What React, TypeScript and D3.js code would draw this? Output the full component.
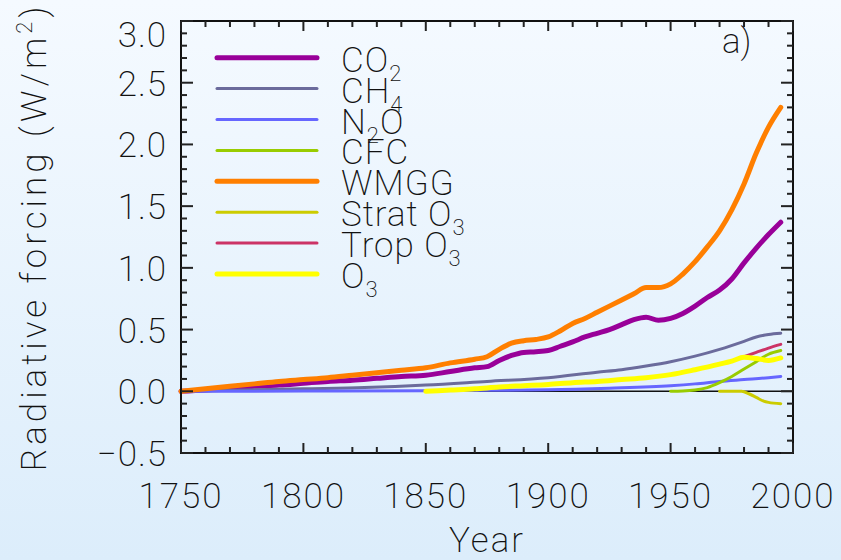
import React from "react";
import * as d3 from "d3";

// years / values
const yearsLong = [1750, 1760, 1770, 1780, 1790, 1800, 1810, 1820, 1830, 1840, 1850, 1860, 1870, 1875, 1880, 1885, 1890, 1895, 1900, 1905, 1910, 1915, 1920, 1925, 1930, 1935, 1940, 1945, 1950, 1955, 1960, 1965, 1970, 1975, 1980, 1985, 1990, 1995];
const co2 = [0.0, 0.01, 0.025, 0.04, 0.05, 0.065, 0.08, 0.09, 0.105, 0.12, 0.13, 0.16, 0.19, 0.2, 0.25, 0.29, 0.315, 0.32, 0.33, 0.365, 0.4, 0.44, 0.47, 0.5, 0.54, 0.58, 0.6, 0.575, 0.59, 0.63, 0.69, 0.76, 0.82, 0.91, 1.04, 1.16, 1.27, 1.37];
const wmgg = [0.0, 0.02, 0.04, 0.06, 0.08, 0.095, 0.11, 0.13, 0.15, 0.17, 0.19, 0.23, 0.26, 0.28, 0.34, 0.39, 0.41, 0.42, 0.44, 0.49, 0.55, 0.59, 0.64, 0.69, 0.74, 0.79, 0.84, 0.84, 0.87, 0.95, 1.05, 1.17, 1.3, 1.47, 1.68, 1.93, 2.14, 2.3];

const yearsCh4 = [1750, 1775, 1800, 1825, 1850, 1875, 1900, 1920, 1930, 1940, 1950, 1960, 1970, 1980, 1985, 1990, 1995];
const ch4 = [0.0, 0.01, 0.02, 0.03, 0.05, 0.08, 0.11, 0.155, 0.175, 0.205, 0.24, 0.285, 0.34, 0.405, 0.44, 0.46, 0.47];

const yearsN2o = [1750, 1800, 1850, 1875, 1900, 1925, 1950, 1960, 1970, 1980, 1990, 1995];
const n2o = [0.0, 0.002, 0.005, 0.008, 0.012, 0.025, 0.045, 0.06, 0.08, 0.095, 0.11, 0.12];

const yearsCfc = [1950, 1955, 1960, 1965, 1970, 1975, 1980, 1985, 1990, 1995];
const cfc = [0.0, 0.002, 0.01, 0.03, 0.07, 0.12, 0.18, 0.24, 0.3, 0.33];

const yearsStrat = [1970, 1975, 1979, 1982, 1985, 1988, 1990, 1995];
const stratO3 = [0.0, 0.0, 0.0, -0.02, -0.05, -0.08, -0.09, -0.1];

const yearsO3 = [1850, 1860, 1870, 1880, 1890, 1900, 1910, 1920, 1930, 1940, 1950, 1960, 1970, 1975, 1980, 1985, 1990, 1995];
const tropO3 = [0.0, 0.01, 0.02, 0.035, 0.045, 0.055, 0.07, 0.08, 0.095, 0.11, 0.135, 0.175, 0.22, 0.245, 0.28, 0.315, 0.35, 0.38];
const o3 = [0.0, 0.01, 0.02, 0.035, 0.045, 0.055, 0.07, 0.08, 0.095, 0.11, 0.135, 0.175, 0.22, 0.245, 0.275, 0.265, 0.25, 0.27];

const xTicks = [1750, 1800, 1850, 1900, 1950, 2000];
const yTicks = [-0.5, 0.0, 0.5, 1.0, 1.5, 2.0, 2.5, 3.0];

type Series = { name: string; sub?: string; years: number[]; values: number[]; color: string; w: number };

const series: Series[] = [
  { name: "CO", sub: "2", years: yearsLong, values: co2, color: "#990099", w: 5 },
  { name: "CH", sub: "4", years: yearsCh4, values: ch4, color: "#6b6b9c", w: 3 },
  { name: "N|O", sub: "2", years: yearsN2o, values: n2o, color: "#6666ff", w: 3 },
  { name: "CFC", years: yearsCfc, values: cfc, color: "#99cc00", w: 3 },
  { name: "WMGG", years: yearsLong, values: wmgg, color: "#ff7f00", w: 5 },
  { name: "Strat O", sub: "3", years: yearsStrat, values: stratO3, color: "#cccc00", w: 3 },
  { name: "Trop O", sub: "3", years: yearsO3, values: tropO3, color: "#cc3366", w: 3 },
  { name: "O", sub: "3", years: yearsO3, values: o3, color: "#ffff00", w: 5 },
];

const W = 841;
const H = 560;
const left = 181;
const right = 793;
const top = 21;
const bottom = 453;
const font = "'DejaVu Sans ExtraLight', 'Roboto', 'Lato', sans-serif";
const fw = 200;

export default function App() {
  const x = d3.scaleLinear().domain([1750, 2000]).range([left, right]);
  const y = d3.scaleLinear().domain([-0.5, 3.0]).range([bottom, top]);

  const minorX = d3.range(1750, 2001, 10);
  const minorY = d3.range(-5, 31).map((d) => d / 10);

  const line = d3
    .line<[number, number]>()
    .x((d) => x(d[0]))
    .y((d) => y(d[1]))
    .curve(d3.curveMonotoneX);

  const legendX1 = 217;
  const legendX2 = 317;
  const legendY0 = 57.7;
  const legendStep = 30.9;

  const tickColor = "#222";

  return (
    <svg
      width={W}
      height={H}
      viewBox={`0 0 ${W} ${H}`}
      style={{ position: "absolute", left: 0, top: 0, display: "block" }}
    >
      <defs>
        <linearGradient id="bg" x1="0" y1="0" x2="0" y2="1">
          <stop offset="0" stopColor="#f5faff" />
          <stop offset="1" stopColor="#dcedfb" />
        </linearGradient>
      </defs>
      <rect width={W} height={H} fill="url(#bg)" />

      {/* zero line */}
      <line x1={left} x2={right} y1={y(0)} y2={y(0)} stroke="#111" strokeWidth={1.5} />

      {/* data */}
      {series.map((s) => (
        <path
          key={s.name}
          d={line(s.years.map((yr, i) => [yr, s.values[i]] as [number, number])) || ""}
          fill="none"
          stroke={s.color}
          strokeWidth={s.w}
          strokeLinecap="round"
          strokeLinejoin="round"
        />
      ))}

      {/* frame */}
      <rect x={left} y={top} width={right - left} height={bottom - top} fill="none" stroke="#111" strokeWidth={2} />

      {/* x ticks (bottom + top) */}
      {minorX.map((v) => {
        const major = v % 50 === 0;
        const len = major ? 10 : 6;
        return (
          <g key={"x" + v} stroke={tickColor} strokeWidth={2}>
            <line x1={x(v)} x2={x(v)} y1={bottom} y2={bottom - len} />
            <line x1={x(v)} x2={x(v)} y1={top} y2={top + len} />
          </g>
        );
      })}
      {/* y ticks (left + right) */}
      {minorY.map((v) => {
        const major = Math.abs((v * 10) % 5) < 1e-6;
        const len = major ? 12 : 6;
        return (
          <g key={"y" + v} stroke={tickColor} strokeWidth={2}>
            <line x1={left} x2={left + len} y1={y(v)} y2={y(v)} />
            <line x1={right} x2={right - len} y1={y(v)} y2={y(v)} />
          </g>
        );
      })}

      {/* tick labels */}
      {xTicks.map((v) => (
        <text
          key={"xl" + v}
          x={x(v)}
          y={508}
          textAnchor="middle"
          fontFamily={font}
          fontWeight={fw}
          fontSize={35}
          letterSpacing={2}
          fill="#111"
        >
          {v}
        </text>
      ))}
      {yTicks.map((v) => (
        <text
          key={"yl" + v}
          x={167}
          y={v === 3.0 ? 47 : y(v) + 13}
          textAnchor="end"
          fontFamily={font}
          fontWeight={fw}
          fontSize={35}
          letterSpacing={1}
          fill="#111"
        >
          {(v < 0 ? "\u2212" : "") + Math.abs(v).toFixed(1)}
        </text>
      ))}

      {/* axis titles */}
      <text
        x={487}
        y={552}
        textAnchor="middle"
        fontFamily={font}
        fontWeight={fw}
        fontSize={35}
        letterSpacing={2}
        fill="#111"
      >
        Year
      </text>
      <text
        transform={`translate(46,237) rotate(-90)`}
        textAnchor="middle"
        fontFamily={font}
        fontWeight={fw}
        fontSize={35}
        letterSpacing={4}
        fill="#111"
      >
        Radiative forcing (W/m
        <tspan fontSize={22} dy={-14}>2</tspan>
        <tspan dy={14}>)</tspan>
      </text>

      <text x={722} y={53} fontFamily={font} fontWeight={fw} fontSize={35} fill="#111">
        a)
      </text>

      {/* legend */}
      {series.map((s, i) => {
        const ly = legendY0 + i * legendStep;
        const parts = s.name.split("|");
        return (
          <g key={"lg" + s.name}>
            <line x1={legendX1} x2={legendX2} y1={ly} y2={ly} stroke={s.color} strokeWidth={s.w} strokeLinecap="round" />
            <text x={341} y={ly + 14} fontFamily={font} fontWeight={fw} fontSize={35} letterSpacing={1} fill="#111">
              {parts.length === 2 ? (
                <>
                  {parts[0]}
                  <tspan fontSize={22} dy={9}>{s.sub}</tspan>
                  <tspan dy={-9}>{parts[1]}</tspan>
                </>
              ) : (
                <>
                  {parts[0]}
                  {s.sub && <tspan fontSize={22} dy={9}>{s.sub}</tspan>}
                </>
              )}
            </text>
          </g>
        );
      })}
    </svg>
  );
}
